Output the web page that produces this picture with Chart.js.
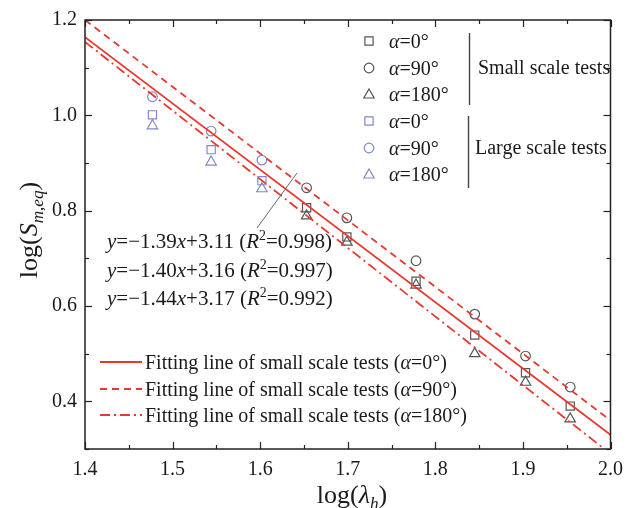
<!DOCTYPE html>
<html>
<head>
<meta charset="utf-8">
<script src="https://cdn.jsdelivr.net/npm/chart.js@4/dist/chart.umd.min.js"></script>
<style>
  html, body { margin: 0; padding: 0; background: #ffffff; }
  #wrap { width: 632px; height: 508px; }
</style>
</head>
<body>
<div id="wrap"><canvas id="c" width="632" height="508"></canvas></div>
<script>
// Small scale tests: log(lambda_h) and log(S_m,eq) for each orientation
const xSmall     = [1.653, 1.699, 1.778, 1.845, 1.903, 1.954];
const ySmall0    = [0.806, 0.745, 0.652, 0.539, 0.460, 0.390];
const ySmall90   = [0.848, 0.785, 0.695, 0.583, 0.495, 0.430];
const ySmall180  = [0.789, 0.734, 0.644, 0.500, 0.440, 0.363];

// Large scale tests
const xLarge     = [1.477, 1.544, 1.602];
const yLarge0    = [1.001, 0.928, 0.863];
const yLarge90   = [1.039, 0.967, 0.906];
const yLarge180  = [0.978, 0.902, 0.846];

// Fitted lines of the small scale tests: y = slope * x + intercept
const fitSlope     = [-1.39, -1.40, -1.44];
const fitIntercept = [3.11, 3.16, 3.17];
const fitR2        = ['0.998', '0.997', '0.992'];
const fitAngle     = ['0°', '90°', '180°'];

// Axis ranges
const xRange = [1.4, 2.0];
const yRange = [0.3, 1.2];

const SERIF = '"Liberation Serif", "Times New Roman", serif';
const RED = '#e8392f';
const GRAY = '#555555';
const BLUE = '#8088c8';

function toPoints(xs, ys) { return xs.map((x, i) => ({ x: x, y: ys[i] })); }
function fitPoints(k) {
  return xRange.map(x => ({ x: x, y: fitSlope[k] * x + fitIntercept[k] }));
}

const markerStyle = { rect: 5.8, circle: 4.8, triangle: 6 };

function scatterSet(label, xs, ys, style, color) {
  return {
    type: 'scatter', label: label, data: toPoints(xs, ys),
    pointStyle: style, pointRadius: markerStyle[style], pointHoverRadius: markerStyle[style],
    pointBorderColor: color, pointBackgroundColor: 'rgba(0,0,0,0)', pointBorderWidth: 1.2,
    showLine: false
  };
}
function fitSet(k, dash) {
  return {
    type: 'line', label: 'fit ' + fitAngle[k], data: fitPoints(k),
    borderColor: RED, borderWidth: 1.8, borderDash: dash, pointRadius: 0,
    fill: false, tension: 0
  };
}

const dashes = [[], [7, 5], [10, 4, 2, 4]];

// ---- rich text helpers (italic / sub / superscript runs) ----
function segFont(s, size) {
  const sz = (s.sub || s.sup) ? size * 0.66 : size;
  return (s.i ? 'italic ' : '') + sz.toFixed(1) + 'px ' + SERIF;
}
function richWidth(ctx, segs, size) {
  let w = 0;
  segs.forEach(s => { ctx.font = segFont(s, size); w += ctx.measureText(s.t).width; });
  return w;
}
function drawRich(ctx, x, y, segs, size, align) {
  const w = richWidth(ctx, segs, size);
  let cx = align === 'center' ? x - w / 2 : x;
  ctx.textAlign = 'left';
  ctx.textBaseline = 'alphabetic';
  segs.forEach(s => {
    ctx.font = segFont(s, size);
    const dy = s.sup ? -size * 0.36 : (s.sub ? size * 0.22 : 0);
    ctx.fillText(s.t, cx, y + dy);
    cx += ctx.measureText(s.t).width;
  });
}
function drawMarker(ctx, style, x, y, r, color) {
  ctx.save();
  ctx.strokeStyle = color;
  ctx.lineWidth = 1.2;
  ctx.beginPath();
  if (style === 'rect') {
    const s = r * Math.SQRT1_2;
    ctx.rect(x - s, y - s, 2 * s, 2 * s);
  } else if (style === 'circle') {
    ctx.arc(x, y, r, 0, Math.PI * 2);
  } else {
    ctx.moveTo(x, y - r);
    ctx.lineTo(x + r * 0.866, y + r * 0.5);
    ctx.lineTo(x - r * 0.866, y + r * 0.5);
    ctx.closePath();
  }
  ctx.stroke();
  ctx.restore();
}
function seg(ctx, x1, y1, x2, y2) {
  ctx.beginPath(); ctx.moveTo(x1, y1); ctx.lineTo(x2, y2); ctx.stroke();
}

// Frame with inward ticks on all four sides, legends, equations and axis titles
const decorations = {
  id: 'decorations',
  afterDraw(chart) {
    const ctx = chart.ctx;
    const a = chart.chartArea;
    const xs = chart.scales.x, ys = chart.scales.y;
    ctx.save();

    // ticks
    ctx.strokeStyle = '#222';
    ctx.lineWidth = 1.2;
    xs.ticks.forEach(t => {
      const px = Math.round(xs.getPixelForValue(t.value)) + 0.5;
      const major = Math.round(t.value * 100) % 10 === 0;
      const L = major ? 7 : 4;
      seg(ctx, px, a.bottom, px, a.bottom - L);
      seg(ctx, px, a.top, px, a.top + L);
    });
    ys.ticks.forEach(t => {
      const py = Math.round(ys.getPixelForValue(t.value)) + 0.5;
      const major = Math.round(t.value * 10) % 2 === 0;
      const L = major ? 7 : 4;
      seg(ctx, a.left, py, a.left + L, py);
      seg(ctx, a.right, py, a.right - L, py);
    });
    // frame
    ctx.lineWidth = 1.5;
    ctx.strokeRect(a.left, a.top, a.right - a.left, a.bottom - a.top);

    ctx.fillStyle = '#1a1a1a';

    // top-right legend: markers grouped by test scale
    const styles = ['rect', 'circle', 'triangle'];
    const rowsY = [41, 68, 94, 121, 148, 174];
    for (let g = 0; g < 2; g++) {
      for (let k = 0; k < 3; k++) {
        const y = rowsY[g * 3 + k];
        drawMarker(ctx, styles[k], 369, y + (styles[k] === 'triangle' ? 1 : 0), markerStyle[styles[k]], g === 0 ? GRAY : BLUE);
        drawRich(ctx, 389, y + 7, [{ t: 'α', i: true }, { t: '=' + fitAngle[k] }], 20, 'left');
      }
    }
    ctx.strokeStyle = '#444';
    ctx.lineWidth = 1.4;
    seg(ctx, 469.5, 33, 469.5, 105);
    seg(ctx, 468.5, 116, 468.5, 188);
    drawRich(ctx, 478, 74, [{ t: 'Small scale tests' }], 20, 'left');
    drawRich(ctx, 475, 154, [{ t: 'Large scale tests' }], 20, 'left');

    // fitted equations with leader line
    ctx.strokeStyle = '#666';
    ctx.lineWidth = 1;
    seg(ctx, 297, 173, 257, 228);
    const eqY = [248, 277, 305];
    for (let k = 0; k < 3; k++) {
      const m = Math.abs(fitSlope[k]).toFixed(2);
      const b = fitIntercept[k].toFixed(2);
      drawRich(ctx, 107, eqY[k], [
        { t: 'y', i: true }, { t: '=\u2212' + m }, { t: 'x', i: true },
        { t: '+' + b + ' (' }, { t: 'R', i: true }, { t: '2', sup: true },
        { t: '=' + fitR2[k] + ')' }
      ], 21, 'left');
    }

    // bottom-left legend of fitted lines
    const lgY = [362, 389, 415];
    for (let k = 0; k < 3; k++) {
      ctx.strokeStyle = RED;
      ctx.lineWidth = 1.8;
      ctx.setLineDash(dashes[k]);
      seg(ctx, 100, lgY[k], 142, lgY[k]);
      ctx.setLineDash([]);
      drawRich(ctx, 145, lgY[k] + 7, [
        { t: 'Fitting line of small scale tests (' }, { t: 'α', i: true },
        { t: '=' + fitAngle[k] + ')' }
      ], 20, 'left');
    }

    // axis titles
    drawRich(ctx, 352, 503, [
      { t: 'log(' }, { t: 'λ', i: true }, { t: 'h', i: true, sub: true }, { t: ')' }
    ], 26, 'center');
    ctx.save();
    ctx.translate(28, 230);
    ctx.rotate(-Math.PI / 2);
    drawRich(ctx, 0, 9, [
      { t: 'log(' }, { t: 'S', i: true }, { t: 'm,eq', i: true, sub: true }, { t: ')' }
    ], 26, 'center');
    ctx.restore();

    ctx.restore();
  }
};

new Chart(document.getElementById('c'), {
  type: 'scatter',
  data: {
    datasets: [
      fitSet(0, dashes[0]),
      fitSet(1, dashes[1]),
      fitSet(2, dashes[2]),
      scatterSet('Small α=0°', xSmall, ySmall0, 'rect', GRAY),
      scatterSet('Small α=90°', xSmall, ySmall90, 'circle', GRAY),
      scatterSet('Small α=180°', xSmall, ySmall180, 'triangle', GRAY),
      scatterSet('Large α=0°', xLarge, yLarge0, 'rect', BLUE),
      scatterSet('Large α=90°', xLarge, yLarge90, 'circle', BLUE),
      scatterSet('Large α=180°', xLarge, yLarge180, 'triangle', BLUE)
    ]
  },
  options: {
    responsive: false,
    animation: false,
    layout: { padding: { left: 0, right: 15, top: 17, bottom: 0 } },
    plugins: { legend: { display: false }, tooltip: { enabled: false } },
    scales: {
      x: {
        type: 'linear', min: xRange[0], max: xRange[1],
        grid: { display: false, drawTicks: false },
        border: { display: false },
        afterFit(scale) { scale.height = 59; },
        ticks: {
          stepSize: 0.05, autoSkip: false, maxRotation: 0, maxTicksLimit: 30,
          padding: 9, color: '#1a1a1a',
          font: { family: SERIF, size: 20 },
          callback: v => (Math.round(v * 100) % 10 === 0 ? Number(v).toFixed(1) : '')
        }
      },
      y: {
        type: 'linear', min: yRange[0], max: yRange[1],
        grid: { display: false, drawTicks: false },
        border: { display: false },
        afterFit(scale) { scale.width = 85; },
        ticks: {
          stepSize: 0.1, autoSkip: false, maxTicksLimit: 30,
          padding: 8, color: '#1a1a1a',
          font: { family: SERIF, size: 20 },
          callback: v => (Math.round(v * 10) % 2 === 0 ? Number(v).toFixed(1) : '')
        }
      }
    }
  },
  plugins: [decorations]
});
</script>
</body>
</html>
